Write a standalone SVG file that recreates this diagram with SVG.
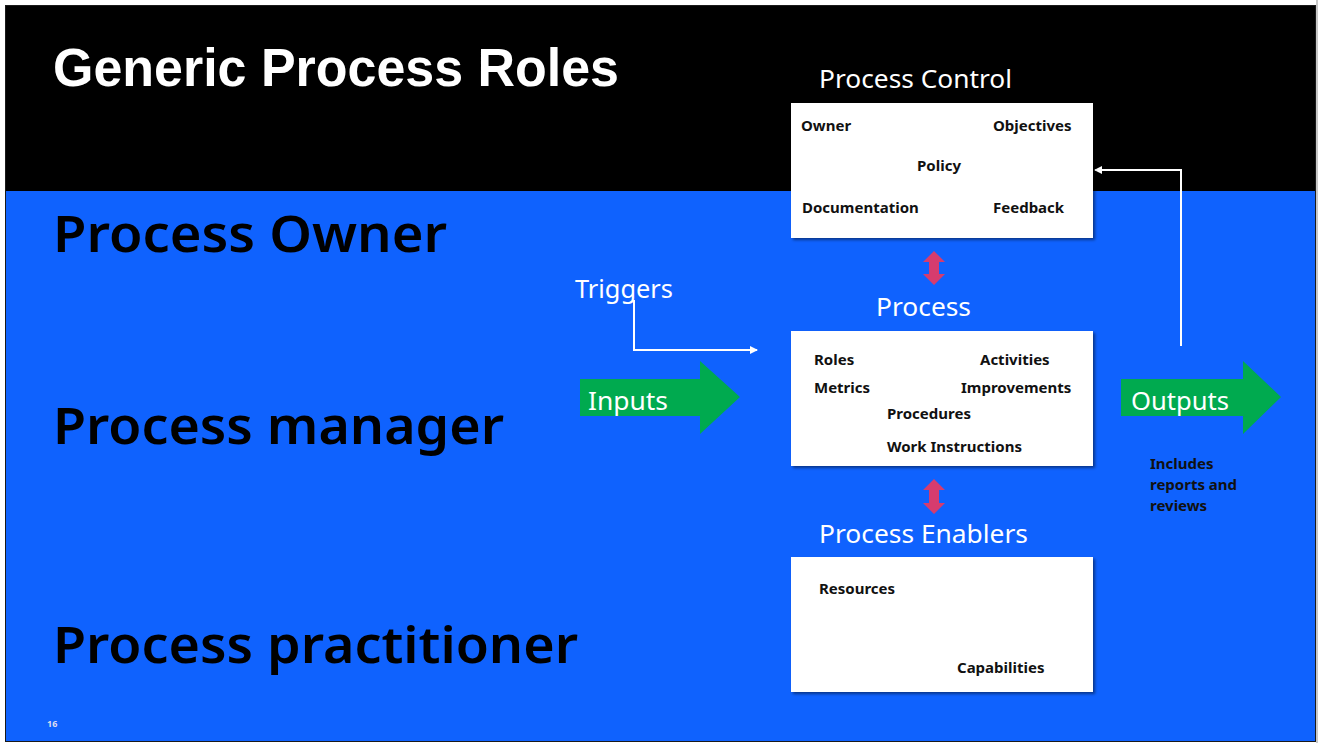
<svg xmlns="http://www.w3.org/2000/svg" width="1318" height="743" viewBox="0 0 1318 743">
<defs>
<style>
.big{font-family:"Noto Sans","Open Sans",sans-serif;font-size:50px;font-weight:600;fill:#000}
.hdr{font-family:"Noto Sans","Open Sans",sans-serif;font-size:26px;fill:#fff}
.item{font-family:"Noto Sans","Open Sans",sans-serif;font-size:15px;font-weight:700;fill:#111}
.box{fill:#fff;filter:url(#sh)}
.conn{fill:none;stroke:#fff;stroke-width:2}
.green{fill:#00AA4F}
.pink{fill:#D63C6E}
</style>
<filter id="sh" x="-5%" y="-5%" width="115%" height="120%">
<feDropShadow dx="2" dy="2" stdDeviation="1.5" flood-color="#000" flood-opacity="0.45"/>
</filter>
<marker id="ah" markerWidth="8" markerHeight="8" refX="7" refY="4" orient="auto" markerUnits="userSpaceOnUse">
<path d="M0,0 L8,4 L0,8 Z" fill="#fff"/>
</marker>
</defs>
<rect x="0" y="0" width="1318" height="743" fill="#fff"/>
<rect x="1316" y="0" width="2" height="743" fill="#c8c8c8"/>
<rect x="5" y="5" width="1311" height="737" fill="#1a1a1a"/>
<rect x="6" y="6" width="1309" height="186" fill="#000"/>
<rect x="6" y="191" width="1309" height="550" fill="#0F62FE"/>
<text x="53" y="86" font-family="'Liberation Sans','Noto Sans',sans-serif" font-size="53" font-weight="700" fill="#fff" textLength="566" lengthAdjust="spacingAndGlyphs">Generic Process Roles</text>
<text class="big" x="53" y="252" textLength="394" lengthAdjust="spacingAndGlyphs">Process Owner</text>
<text class="big" x="53" y="444" textLength="451" lengthAdjust="spacingAndGlyphs">Process manager</text>
<text class="big" x="53" y="663" textLength="525" lengthAdjust="spacingAndGlyphs">Process practitioner</text>
<text x="47" y="727" font-family="'Noto Sans',sans-serif" font-size="9" font-weight="700" fill="#dde">16</text>

<g id="connectors">
<path class="conn" d="M634,300 V350 H757" marker-end="url(#ah)"/>
<path class="conn" d="M1181,346 V170 H1095" marker-end="url(#ah)"/>
<path class="pink" d="M934,251 L945,262 L939,262 L939,274 L945,274 L934,285 L923,274 L929,274 L929,262 L923,262 Z"/>
<path class="pink" d="M934,479 L945,490 L939,490 L939,503 L945,503 L934,514 L923,503 L929,503 L929,490 L923,490 Z"/>
</g>

<g id="triggers">
<text class="hdr" x="575" y="298" textLength="98" lengthAdjust="spacingAndGlyphs">Triggers</text>
</g>

<g id="inputs">
<path class="green" d="M580,379 H700 V361 L740,397 L700,434 V416 H580 Z"/>
<text class="hdr" x="588" y="410" textLength="80" lengthAdjust="spacingAndGlyphs">Inputs</text>
</g>

<g id="outputs">
<path class="green" d="M1121,379 H1243 V361 L1281,397 L1243,434 V416 H1121 Z"/>
<text class="hdr" x="1131" y="410" textLength="98" lengthAdjust="spacingAndGlyphs">Outputs</text>
<text class="item" x="1150" y="469">Includes</text>
<text class="item" x="1150" y="490">reports and</text>
<text class="item" x="1150" y="511">reviews</text>
</g>

<g id="process-control">
<text class="hdr" x="819" y="88" textLength="193" lengthAdjust="spacingAndGlyphs">Process Control</text>
<rect class="box" x="791" y="103" width="302" height="135"/>
<text class="item" x="801" y="131">Owner</text>
<text class="item" x="993" y="131">Objectives</text>
<text class="item" x="917" y="171">Policy</text>
<text class="item" x="802" y="213">Documentation</text>
<text class="item" x="993" y="213">Feedback</text>
</g>

<g id="process">
<text class="hdr" x="876" y="316" textLength="95" lengthAdjust="spacingAndGlyphs">Process</text>
<rect class="box" x="791" y="331" width="302" height="135"/>
<text class="item" x="814" y="365">Roles</text>
<text class="item" x="980" y="365">Activities</text>
<text class="item" x="814" y="393">Metrics</text>
<text class="item" x="961" y="393">Improvements</text>
<text class="item" x="887" y="419">Procedures</text>
<text class="item" x="887" y="452">Work Instructions</text>
</g>

<g id="process-enablers">
<text class="hdr" x="819" y="543" textLength="209" lengthAdjust="spacingAndGlyphs">Process Enablers</text>
<rect class="box" x="791" y="557" width="302" height="135"/>
<text class="item" x="819" y="594">Resources</text>
<text class="item" x="957" y="673">Capabilities</text>
</g>
</svg>
